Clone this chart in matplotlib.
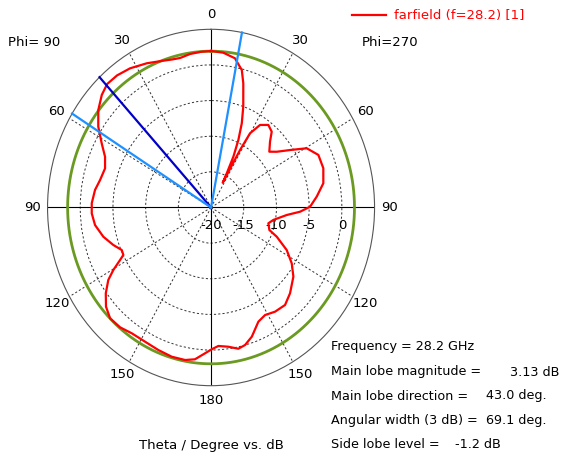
import numpy as np
import matplotlib
matplotlib.use("Agg")
import matplotlib.pyplot as plt
from matplotlib.transforms import offset_copy

plt.rcParams['font.family'] = ['DejaVu Sans']

# farfield cut, angle measured counter-clockwise from the top (deg), gain in dB
angle_deg = [0, 4, 8.5, 12.7, 16, 19.5, 25.9, 32.4, 37.8, 42.5, 46.6, 51.6,
             56.7, 61.7, 66.3, 71.3, 77.2, 82.1, 88.1, 92.6, 97.9, 104.0,
             109.4, 113.6, 116.4, 117.9, 120.4, 122.9, 126.8, 130.9, 135.2,
             140.4, 145.5, 151.8, 158.1, 164.0, 169.5, 173.4, 177.4, 180.3,
             183.3, 187.7, 191.9, 195.1, 199.0, 204.3, 208.7, 213.8, 219.6,
             225.1, 232.4, 237.6, 242.7, 247.8, 250.5, 255.8, 259.6, 264.8,
             267.5, 270.4, 275.4, 281.2, 287.8, 294.2, 299.6, 303.7, 307.9,
             311.3, 315.7, 318.9, 322.9, 327.1, 330.2, 331.2, 331.9, 332.8,
             333.4, 334.4, 336.2, 338.3, 340.8, 344.2, 346.3, 350.1, 355.1, 360]
gain_db = [1.95, 1.9, 1.77, 1.5, 1.6, 1.85, 2.49, 3.12, 3.45, 3.5, 2.99, 2.0,
           0.63, -1.01, -2.30, -2.89, -2.6, -2.09, -1.75, -1.74, -2.09, -3.03,
           -4.16, -5.1, -5.03, -4.26, -2.68, -1.29, 0.10, 1.25, 1.91,
           1.82, 1.41, 1.36, 1.56, 1.78, 1.76, 1.44, 0.48, -0.11,
           -0.54, -0.29, 0.25, -0.02, -0.84, -2.42, -2.8, -2.41, -2.25,
           -2.95, -4.11, -5.39, -6.98, -9.15, -10.54, -10.96, -10.32, -8.38,
           -6.38, -4.86, -3.77, -2.5, -1.97, -2.01, -3.18, -5.47, -7.27,
           -8.14, -7.09, -5.89, -5.48, -6.21, -8.0, -10.8, -14.0, -16.1,
           -14.6, -12.1, -9.65, -7.29, -5.02, -1.89, -0.15, 1.25, 1.8, 1.95]

main_lobe_dir = 43.0
main_lobe_mag = 3.13
side_lobe_level = -1.2
beam_edges = [58.2, -10.9]

r_ticks = [-20, -15, -10, -5, 0]
theta_ticks = [0, 30, 60, 90, 120, 150, 180, 210, 240, 270, 300, 330]
theta_labels = ['0', '30', '60', '90', '120', '150', '180',
                '150', '120', '90', '60', '30']

fig = plt.figure(figsize=(5.64, 4.59), dpi=100)
ax = fig.add_axes([0.0843, 0.1597, 0.5798, 0.7765], projection='polar')
ax.set_aspect('auto')
ax.set_theta_zero_location('N')
ax.set_theta_direction(1)
ax.set_ylim(-20, 5)

# grid
ax.set_thetagrids(theta_ticks, labels=theta_labels, fontsize=9.5)
ax.set_rgrids(r_ticks[1:], labels=[])
ax.grid(True, color='#333333', linestyle=(0, (2.2, 2.2)), linewidth=0.7)
for t in [0, 90]:
    ax.axvline(np.radians(t), color='black', lw=0.8)
    ax.axvline(np.radians(t + 180), color='black', lw=0.8)
ax.spines['polar'].set_color('#555555')
ax.spines['polar'].set_linewidth(0.8)
ax.tick_params(axis='x', pad=0)

# radial labels under the right horizontal axis
tr = offset_copy(ax.transData, fig=fig, x=0, y=-18.5, units='dots')
for r in r_ticks:
    ax.text(np.radians(270), r, str(r), transform=tr, ha='center', va='center',
            fontsize=9.5)

# side lobe ring, pattern, lobe lines
ring = np.radians(np.linspace(0, 360, 361))
ax.plot(ring, np.full_like(ring, main_lobe_mag + side_lobe_level),
        color='#6b9a22', lw=2.0, zorder=3)
line, = ax.plot(np.radians(angle_deg), gain_db, color='#ff0000', lw=1.6,
                zorder=4, label='farfield (f=28.2) [1]')
ax.plot([np.radians(main_lobe_dir)] * 2, [-20, 5], color='#0000c8', lw=1.6,
        zorder=5, clip_on=False)
for b in beam_edges:
    ax.plot([np.radians(b)] * 2, [-20, 5], color='#1e90ff', lw=1.6,
            zorder=5, clip_on=False)

fig.legend(handles=[line], loc='center left', bbox_to_anchor=(352 / 564, 1 - 16 / 459),
           frameon=False, fontsize=9.5, handlelength=2.6, handletextpad=0.55,
           borderpad=0, borderaxespad=0, labelcolor='red')

fig.text(8 / 564, 1 - 43 / 459, 'Phi= 90', fontsize=9.5, va='center')
fig.text(362 / 564, 1 - 43 / 459, 'Phi=270', fontsize=9.5, va='center')
fig.text(211 / 564, 1 - 446 / 459, 'Theta / Degree vs. dB', fontsize=9.5,
         ha='center', va='center')

info_labels = ['Frequency = 28.2 GHz', 'Main lobe magnitude =',
               'Main lobe direction =', 'Angular width (3 dB) =',
               'Side lobe level =']
info_values = ['', '3.13 dB', '43.0 deg.', '69.1 deg.', '-1.2 dB']
info_y = [346.7, 372.0, 396.0, 420.5, 445.0]
value_x = [0, 510, 486, 486, 455]
for lab, val, y, vx in zip(info_labels, info_values, info_y, value_x):
    fig.text(331 / 564, 1 - y / 459, lab, fontsize=9.2, va='center')
    if val:
        fig.text(vx / 564, 1 - y / 459, val, fontsize=9.2, va='center')

fig.savefig('out.png', dpi=100)
